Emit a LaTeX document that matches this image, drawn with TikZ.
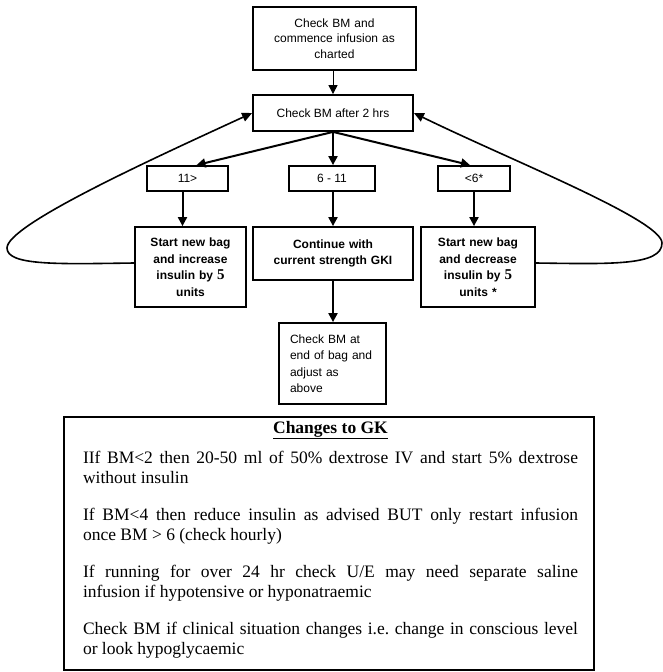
\documentclass[tikz,border=0pt]{standalone}
\usepackage{fontspec}
\setmainfont{Liberation Serif}
\newfontfamily\boxfont{Liberation Sans}
\usetikzlibrary{arrows.meta}

\newcommand{\fivebig}{{\rmfamily\bfseries\fontsize{15pt}{15.5pt}\selectfont 5}}

\tikzset{
  flowbox/.style={draw, line width=1.8pt, inner sep=0pt, align=center,
    font=\boxfont\fontsize{12pt}{15.5pt}\selectfont},
  boldbox/.style={flowbox, font=\boxfont\bfseries\fontsize{12pt}{16.5pt}\selectfont},
  thinarrow/.style={line width=1pt, -{Triangle[length=9pt,width=9pt]}},
  arr/.style={line width=2pt, -{Triangle[length=9pt,width=9pt]}},
  loopline/.style={line width=1.6pt, -{Triangle[length=10pt,width=9pt]}},
  notesframe/.style={draw, line width=2.5pt, inner sep=0pt},
}

\begin{document}
\begin{tikzpicture}[x=1pt,y=-1pt]
\useasboundingbox (0,0) rectangle (663,672);

% flow chart boxes
\node[flowbox, minimum width=163pt, minimum height=63pt, text width=150pt] (b1) at (334.5,38.5)
  {Check BM and\\commence infusion as\\charted};
\node[flowbox, minimum width=160pt, minimum height=36pt] (b2) at (333,113) {Check BM after 2 hrs};

\node[flowbox, minimum width=81pt, minimum height=25pt] (n11) at (187.5,178.5) {11>};
\node[flowbox, minimum width=86pt, minimum height=25pt] (nmid) at (332,178.5) {6 - 11};
\node[flowbox, minimum width=72pt, minimum height=25pt] (nlow) at (474,178.5) {<6*};

\node[boldbox, minimum width=111pt, minimum height=80pt, text width=100pt] (inc) at (190.5,267)
  {Start new bag\\and increase\\insulin by \fivebig\\units};
\node[boldbox, minimum width=160pt, minimum height=53pt, text width=150pt] (cont) at (333,253.5)
  {Continue with\\current strength GKI};
\node[boldbox, minimum width=114pt, minimum height=80pt, text width=100pt] (dec) at (478,267)
  {Start new bag\\and decrease\\insulin by \fivebig\\units *};

\node[flowbox, align=left, minimum width=107pt, minimum height=81pt, text width=85pt,
  font=\boxfont\fontsize{12pt}{16.5pt}\selectfont] (endb) at (332.5,363.5)
  {Check BM at\\end of bag and\\adjust as\\above};

% connectors
\draw[thinarrow] (b1.south -| b2.north) -- (b2.north);
\draw[arr] (b2.south) -- ([xshift=9pt]n11.north);
\draw[arr] (b2.south) -- (b2.south |- nmid.north);
\draw[arr] (b2.south) -- ([xshift=-4pt]nlow.north);
\draw[arr] ([xshift=-5pt]n11.south) -- ([xshift=-5pt]n11.south |- inc.north);
\draw[arr] (cont.north |- nmid.south) -- (cont.north);
\draw[arr] (nlow.south) -- (nlow.south |- dec.north);
\draw[arr] (cont.south) -- (cont.south |- endb.north);

% feedback loops back to the two-hourly check
\draw[loopline] ([yshift=4pt]inc.west) .. controls (60,264) and (7,266) .. (7,248)
  .. controls (7,225) and (150,160) .. (b2.west);
\draw[loopline] ([yshift=4pt]dec.east) .. controls (610,264) and (662,266) .. (662,243)
  .. controls (662,220) and (510,160) .. (b2.east);

% notes panel
\node[notesframe, minimum width=530pt, minimum height=253pt] (notesbox) at (329,543.5) {};
\node[anchor=north, inner sep=0pt, text width=495pt, align=justify,
  font=\fontsize{17.5pt}{20pt}\selectfont] (notes) at (330.5,421)
  {\frenchspacing
   \centerline{\textbf{\underline{Changes to GK}}}\par\vspace{10pt}
   IIf BM<2 then 20-50 ml of 50\% dextrose IV and start 5\% dextrose\linebreak without insulin\par\vspace{17pt}
   If BM<4 then reduce insulin as advised BUT only restart infusion\linebreak once BM > 6 (check hourly)\par\vspace{17pt}
   If running for over 24 hr check U/E may need separate saline\linebreak infusion if hypotensive or hyponatraemic\par\vspace{17pt}
   Check BM if clinical situation changes i.e. change in conscious level\linebreak or look hypoglycaemic};
\end{tikzpicture}
\end{document}
